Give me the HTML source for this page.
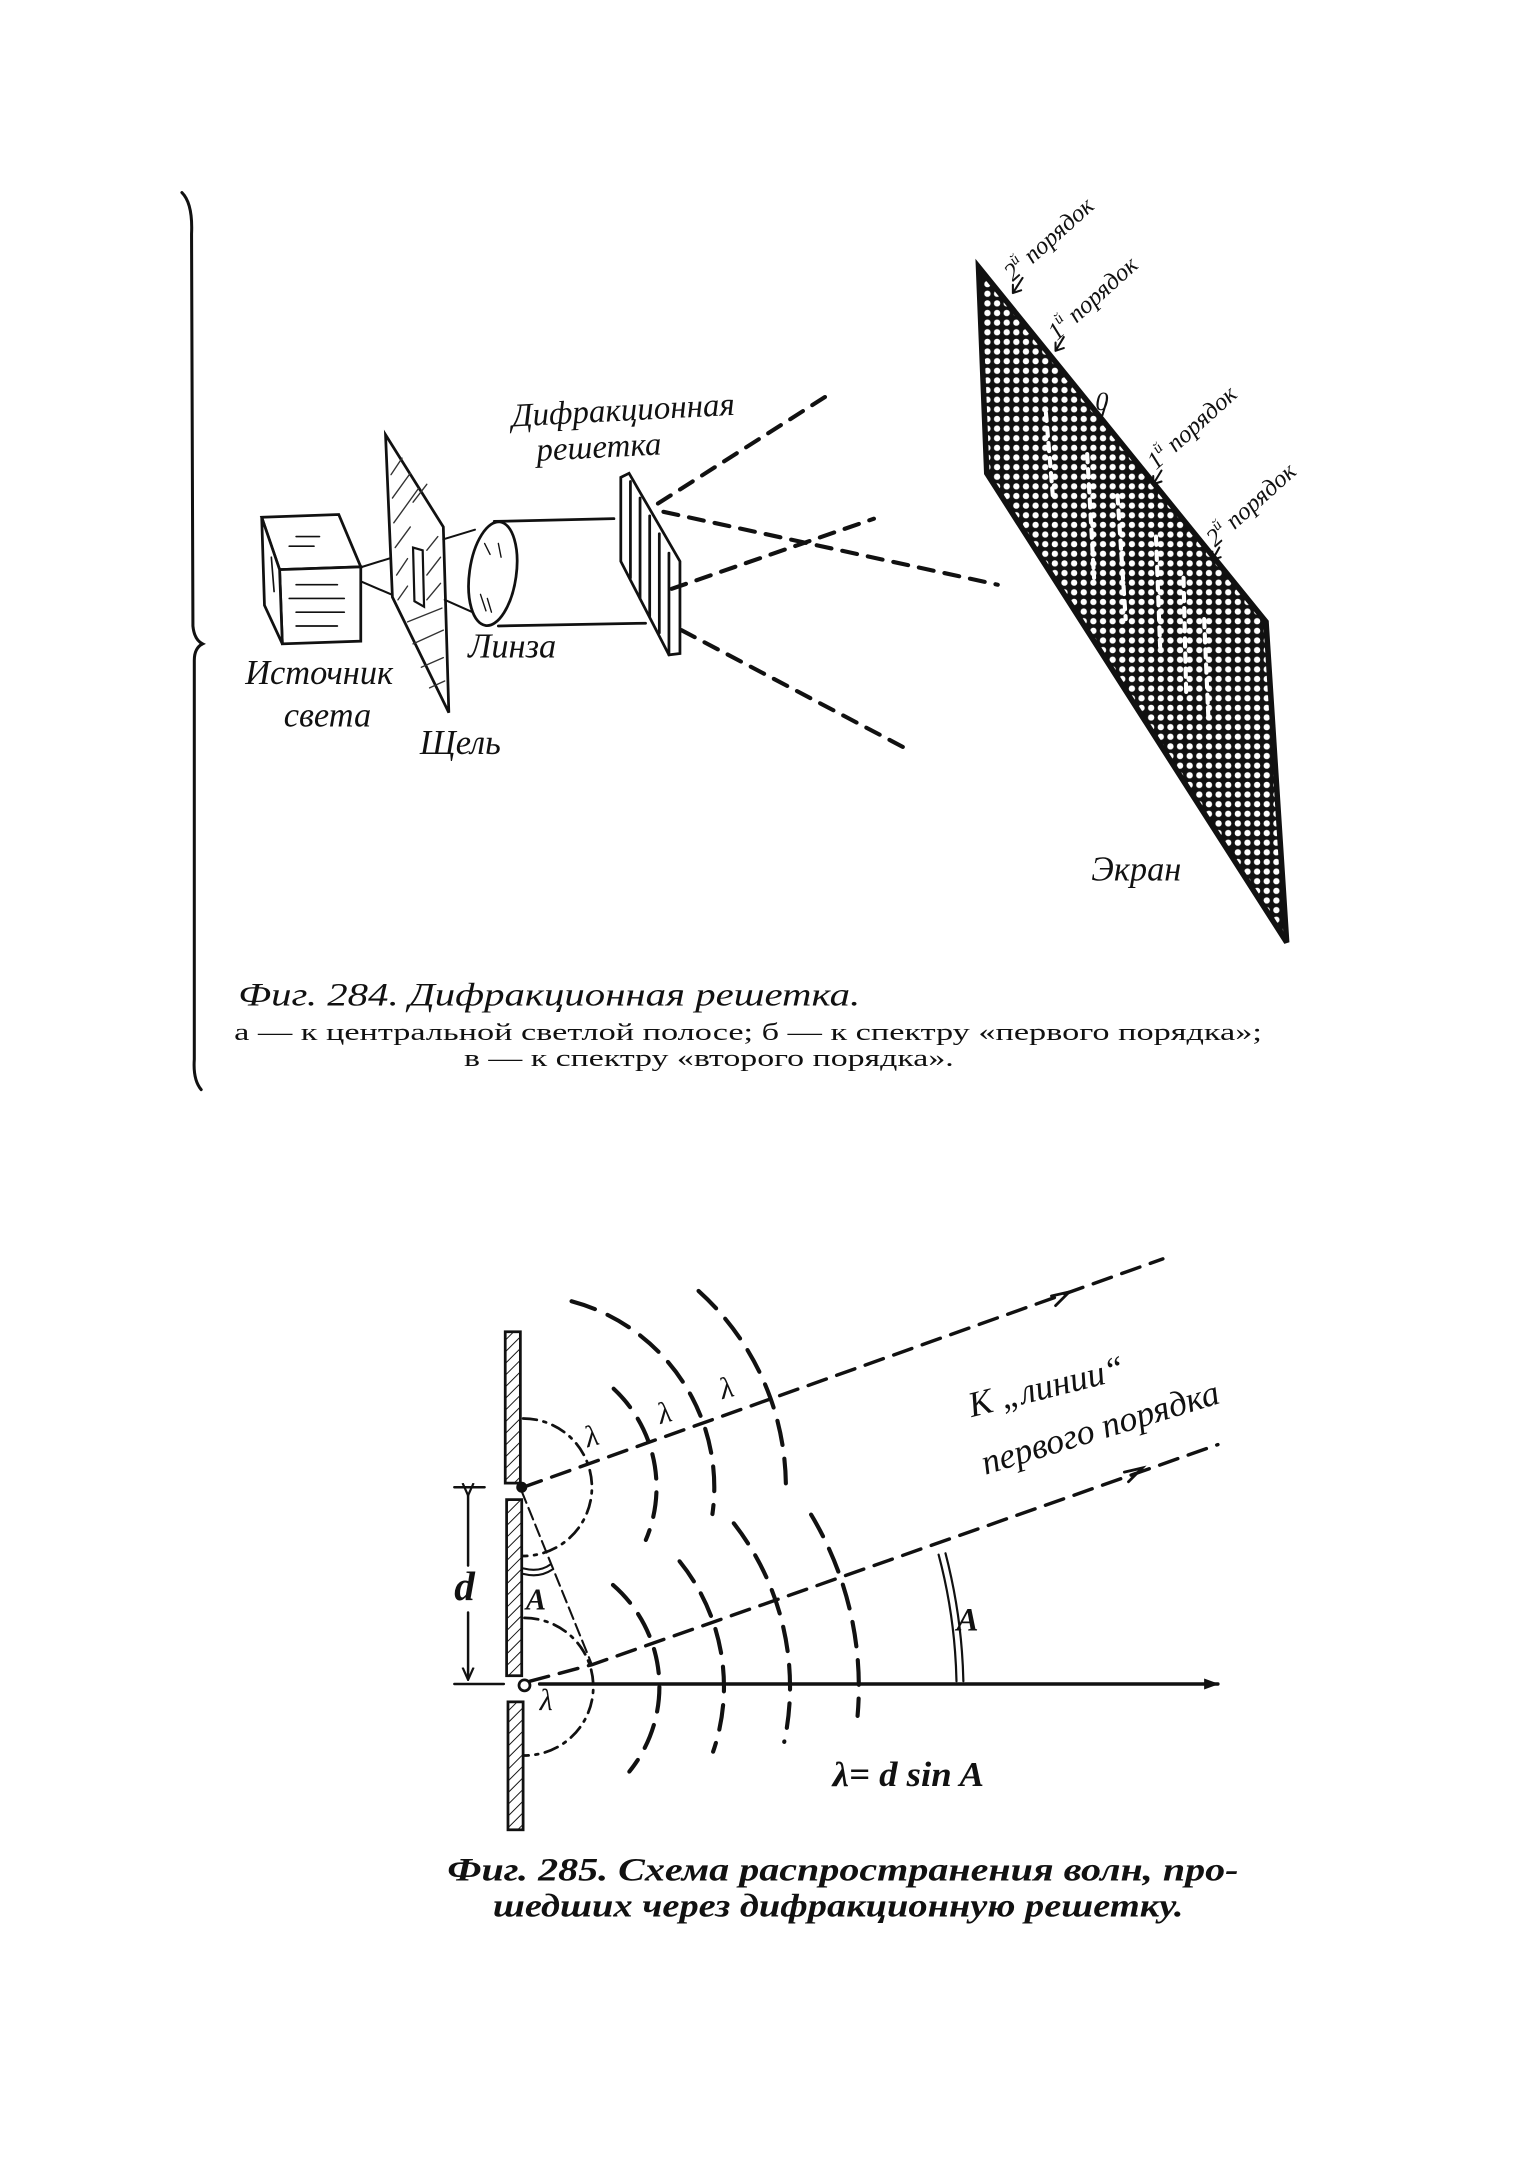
<!DOCTYPE html>
<html><head><meta charset="utf-8"><style>
html,body{margin:0;padding:0;background:#fff;}
svg{display:block;}
text{font-family:"Liberation Serif","DejaVu Serif",serif;fill:#111;}
.it{font-style:italic;}
</style></head><body>
<svg width="1514" height="2160" viewBox="0 0 1100 1570" xmlns="http://www.w3.org/2000/svg">
<defs>
<pattern id="dots" width="7" height="7" patternUnits="userSpaceOnUse">
<rect width="7" height="7" fill="#111"/>
<circle cx="3.5" cy="3.5" r="2.3" fill="#fff"/>
</pattern>
<pattern id="hatch" width="6" height="6" patternUnits="userSpaceOnUse" patternTransform="rotate(45)">
<line x1="0" y1="0" x2="0" y2="6" stroke="#111" stroke-width="1.4"/>
</pattern>
<marker id="ar" markerWidth="10" markerHeight="10" refX="8" refY="5" orient="auto" markerUnits="userSpaceOnUse">
<path d="M0,1 L9,5 L0,9" fill="none" stroke="#111" stroke-width="1.6"/>
</marker>
<marker id="arf" markerWidth="12" markerHeight="10" refX="10" refY="5" orient="auto" markerUnits="userSpaceOnUse">
<path d="M0,1 L11,5 L0,9 Z" fill="#111"/>
</marker>
</defs>
<g stroke="#111" fill="none" stroke-linecap="round">
<path d="M132,140 Q140,148 139,170 L140,455 Q141,465 147,468 Q141,471 141,480 L141,770 Q140,785 146,792" stroke-width="2.2"/>
<path d="M190,376 L246,374 L262,412 L203,414 Z" fill="#fff" stroke-width="2"/>
<path d="M203,414 L262,412 L262,466 L205,468 Z" fill="#fff" stroke-width="2"/>
<path d="M190,376 L203,414 L205,468 L192,440 Z" fill="#fff" stroke-width="2"/>
<g stroke-width="1.2">
<line x1="215" y1="390" x2="232" y2="390"/><line x1="210" y1="397" x2="228" y2="397"/>
<line x1="215" y1="425" x2="245" y2="425"/><line x1="210" y1="435" x2="250" y2="435"/>
<line x1="215" y1="445" x2="250" y2="445"/><line x1="215" y1="455" x2="245" y2="455"/>
<line x1="197" y1="405" x2="199" y2="430"/>
</g>
<path d="M263,412 L302,400 M263,423 L305,441" stroke-width="1.5"/>
<path d="M280,316 L322,383 L326,518 L285,434 Z" fill="#fff" stroke-width="2"/>
<g stroke-width="1" stroke="#333">
<line x1="284" y1="345" x2="292" y2="333"/><line x1="285" y1="362" x2="298" y2="344"/>
<line x1="286" y1="380" x2="304" y2="355"/><line x1="287" y1="398" x2="298" y2="383"/>
<line x1="288" y1="418" x2="296" y2="406"/><line x1="289" y1="436" x2="296" y2="426"/>
<line x1="310" y1="400" x2="318" y2="390"/><line x1="310" y1="418" x2="320" y2="405"/>
<line x1="310" y1="436" x2="320" y2="424"/><line x1="296" y1="452" x2="321" y2="442"/>
<line x1="300" y1="468" x2="322" y2="458"/><line x1="306" y1="485" x2="322" y2="478"/>
<line x1="312" y1="500" x2="323" y2="495"/><line x1="300" y1="365" x2="310" y2="352"/>
</g>
<path d="M300,398 L307,400 L308,441 L301,437 Z" fill="#fff" stroke-width="1.6"/>
<path d="M322,392 L345,385 M323,436 L350,448" stroke-width="1.5"/>
<ellipse cx="358" cy="417" rx="17" ry="38" transform="rotate(8 358 417)" fill="#fff" stroke-width="2"/>
<path d="M352,395 l4,8 M362,395 l2,10 M349,432 l4,12 M354,435 l3,10" stroke-width="1"/>
<line x1="359" y1="379" x2="446" y2="377" stroke-width="2"/>
<line x1="362" y1="455" x2="469" y2="453" stroke-width="2"/>
<g stroke-width="2" fill="#fff">
<path d="M451,347 L457,344 L494,408 L494,475 L486,476 L451,408 Z"/>
<line x1="458" y1="350" x2="458" y2="420"/>
<line x1="465" y1="362" x2="465" y2="435"/>
<line x1="472" y1="375" x2="472" y2="448"/>
<line x1="479" y1="388" x2="479" y2="460"/>
<line x1="486" y1="402" x2="486" y2="476"/>
</g>
<g stroke-width="3" stroke-dasharray="11,8">
<line x1="478" y1="366" x2="605" y2="285"/>
<line x1="482" y1="372" x2="725" y2="425"/>
<line x1="488" y1="428" x2="635" y2="377"/>
<line x1="495" y1="458" x2="660" y2="545"/>
</g>
<path d="M711,194 L920,452 L935,685 L717,344 Z" fill="url(#dots)" stroke="#111" stroke-width="4"/>
<path d="M760,300 L765,360 M790,330 L795,420 M812,360 L818,450 M840,390 L843,470 M860,420 L862,505 M875,450 L878,520" stroke="#fff" stroke-width="3" stroke-dasharray="6,5"/>
<g stroke-width="1.5">
<path d="M743,202 l-7,11 m0,0 l0,-6 m0,6 l6,-2"/>
<path d="M773,245 l-6,10 m0,0 l0,-6 m0,6 l6,-2"/>
<path d="M804,292 l-3,10"/>
<path d="M844,342 l-6,10 m0,0 l0,-6 m0,6 l6,-2"/>
<path d="M886,398 l-5,9 m0,0 l0,-6 m0,6 l6,-2"/>
</g>
</g>
<g class="it">
<text x="372" y="310" font-size="24" transform="rotate(-3 372 310)">Дифракционная</text>
<text x="390" y="335" font-size="24" transform="rotate(-3 390 335)">решетка</text>
<text x="178" y="497" font-size="25">Источник</text>
<text x="206" y="528" font-size="25">света</text>
<text x="340" y="478" font-size="25">Линза</text>
<text x="305" y="548" font-size="25">Щель</text>
<text x="793" y="640" font-size="25">Экран</text>
</g>
<g font-size="18" class="it">
<text transform="translate(736,205) rotate(-42)">2<tspan font-size="11" dy="-8">й</tspan><tspan dy="8"> порядок</tspan></text>
<text transform="translate(768,248) rotate(-42)">1<tspan font-size="11" dy="-8">й</tspan><tspan dy="8"> порядок</tspan></text>
<text x="796" y="298" font-size="19">0</text>
<text transform="translate(840,342) rotate(-42)">1<tspan font-size="11" dy="-8">й</tspan><tspan dy="8"> порядок</tspan></text>
<text transform="translate(883,398) rotate(-42)">2<tspan font-size="11" dy="-8">й</tspan><tspan dy="8"> порядок</tspan></text>
</g>
<text x="173" y="731" font-size="24" class="it" textLength="452" lengthAdjust="spacingAndGlyphs">Фиг.  284.  Дифракционная  решетка.</text>
<text x="170" y="756" font-size="18" textLength="747" lengthAdjust="spacingAndGlyphs">а — к  центральной  светлой  полосе;  б — к  спектру  «первого  порядка»;</text>
<text x="337" y="775" font-size="18" textLength="356" lengthAdjust="spacingAndGlyphs">в — к  спектру  «второго  порядка».</text>

<g stroke="#111" fill="none" stroke-linecap="round">
<rect x="367" y="968" width="11" height="110" fill="url(#hatch)" stroke-width="2"/>
<rect x="368" y="1090" width="11" height="128" fill="url(#hatch)" stroke-width="2"/>
<rect x="369" y="1237" width="11" height="93" fill="url(#hatch)" stroke-width="2"/>
<circle cx="379" cy="1081" r="3.5" fill="#111"/>
<circle cx="381" cy="1225" r="4" fill="#fff" stroke-width="2"/>
<line x1="330" y1="1081" x2="352" y2="1081" stroke-width="1.8"/>
<line x1="330" y1="1224" x2="366" y2="1224" stroke-width="1.8"/>
<line x1="340" y1="1086" x2="340" y2="1138" stroke-width="1.8" marker-start="url(#ar)"/>
<line x1="340" y1="1172" x2="340" y2="1220" stroke-width="1.8" marker-end="url(#ar)"/>
<line x1="392" y1="1224" x2="885" y2="1224" stroke-width="2.5" marker-end="url(#arf)"/>
<line x1="380" y1="1081" x2="845" y2="915" stroke-width="2.5" stroke-dasharray="14,8"/>
<path d="M385,1222 L430,1210 L885,1050" stroke-width="2.5" stroke-dasharray="14,8"/>
<path d="M764,942 l13,-3 l-10,10" stroke-width="2"/>
<path d="M817,1070 l13,-3 l-10,10" stroke-width="2"/>
<line x1="379" y1="1084" x2="430" y2="1210" stroke-width="1.5" stroke-dasharray="9,4"/>
<path d="M380,1140 Q392,1143 400,1137" stroke-width="1.5"/>
<path d="M380,1144 Q392,1147 401,1141" stroke-width="1.5"/>
<path d="M682,1130 Q694,1175 695,1222" stroke-width="1.6"/>
<path d="M687,1129 Q699,1175 700,1222" stroke-width="1.6"/>
<g stroke-width="3" stroke-dasharray="18,10">
<path d="M380,1031 A50,50 0 0 1 380,1131" stroke-dasharray="10,5,2,5" stroke-width="2"/>
<path d="M445.8,1009.4 A98,98 0 0 1 469.2,1119.3"/>
<path d="M415.2,945.8 A140,140 0 0 1 517.6,1100.5"/>
<path d="M507.5,938.3 A192,192 0 0 1 571,1081"/>
</g>
<g stroke-width="3" stroke-dasharray="18,10">
<path d="M381,1176 A50,50 0 0 1 381,1276" stroke-dasharray="10,5,2,5" stroke-width="2"/>
<path d="M445.3,1152 A98,98 0 0 1 457.2,1287.7"/>
<path d="M493.7,1134.8 A145,145 0 0 1 518.1,1273.2"/>
<path d="M533.1,1107.2 A193,193 0 0 1 569.8,1266.1"/>
<path d="M589.3,1100.9 A243,243 0 0 1 623.1,1247.2"/>
</g>
</g>
<g class="it" font-size="22">
<text x="427" y="1052" transform="rotate(-15 427 1052)">λ</text>
<text x="480" y="1035" transform="rotate(-15 480 1035)">λ</text>
<text x="525" y="1017" transform="rotate(-15 525 1017)">λ</text>
<text x="392" y="1243">λ</text>
<text x="382" y="1170" font-size="22" font-weight="bold">A</text>
<text x="695" y="1185" font-size="24" font-weight="bold">A</text>
<text x="330" y="1163" font-size="30" font-weight="bold">d</text>
</g>
<text x="605" y="1298" font-size="25" font-weight="bold" class="it" textLength="110" lengthAdjust="spacingAndGlyphs">λ= d sin A</text>
<g class="it" font-size="26">
<text transform="translate(706,1030) rotate(-14)">К „линии“</text>
<text transform="translate(716,1072) rotate(-17)">первого порядка</text>
</g>
<text x="325" y="1367" font-size="24" class="it" font-weight="bold" textLength="575" lengthAdjust="spacingAndGlyphs">Фиг. 285.  Схема  распространения  волн,  про-</text>
<text x="358" y="1393" font-size="24" class="it" font-weight="bold" textLength="502" lengthAdjust="spacingAndGlyphs">шедших  через  дифракционную  решетку.</text>
</svg>
</body></html>
